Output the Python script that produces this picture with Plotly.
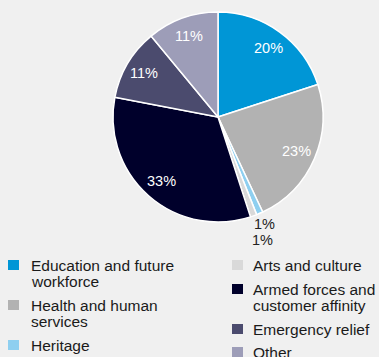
import math
import plotly.graph_objects as go

# Share of giving by cause (percent)
causes = [
    "Education and future workforce",
    "Health and human services",
    "Heritage",
    "Arts and culture",
    "Armed forces and customer affinity",
    "Emergency relief",
    "Other",
]
shares = [20, 23, 1, 1, 33, 11, 11]
colors = ["#0096d6", "#b2b2b2", "#8ecff0", "#d9d9d9", "#00002b", "#4b4b6e", "#9d9db8"]

# Legend layout: wrapped label lines, column and row centre (px)
legend_lines = [
    ["Education and future", "workforce"],
    ["Health and human", "services"],
    ["Heritage"],
    ["Arts and culture"],
    ["Armed forces and", "customer affinity"],
    ["Emergency relief"],
    ["Other"],
]
legend_col = [0, 0, 0, 1, 1, 1, 1]
legend_y = [265, 305, 345, 265, 289, 329, 352]

W, H = 379, 357
CX, CY, R = 218, 117, 105
BG = "#f0f0f0"
FONT = "Liberation Sans"

fig = go.Figure(
    go.Pie(
        labels=causes,
        values=shares,
        sort=False,
        direction="clockwise",
        rotation=0,
        marker=dict(colors=colors, line=dict(color="white", width=1.5)),
        textinfo="none",
        hoverinfo="label+percent",
        showlegend=False,
        domain=dict(x=[(CX - R) / W, (CX + R) / W], y=[1 - (CY + R) / H, 1 - (CY - R) / H]),
    )
)

annotations = []
shapes = []

# Percentage labels placed along each slice's mid-angle
total = sum(shares)
cum = 0
small_rank = 0
for v, c in zip(shares, colors):
    mid = (cum + v / 2) / total * 2 * math.pi
    cum += v
    if v / total >= 0.05:
        r, col = 0.815 * R, "white"
    else:
        r, col = 1.11 * R + small_rank * 14, "#222222"
        small_rank += 1
    px = CX + r * math.sin(mid)
    py = CY - r * math.cos(mid)
    annotations.append(dict(
        x=px / W, y=1 - py / H, xref="paper", yref="paper",
        text=f"{v}%", showarrow=False, xanchor="center", yanchor="middle",
        font=dict(family=FONT, size=14.5, color=col),
    ))

# Custom two-column legend
col_sq_x = [8, 232]
col_tx_x = [29, 251]
line_gap = 16
for lines, colidx, yc, c in zip(legend_lines, legend_col, legend_y, colors):
    sx = col_sq_x[colidx]
    shapes.append(dict(
        type="rect", xref="paper", yref="paper",
        x0=sx / W, x1=(sx + 11) / W, y0=1 - (yc + 5) / H, y1=1 - (yc - 5) / H,
        fillcolor=c, line=dict(width=0),
    ))
    for i, t in enumerate(lines):
        ly = yc + i * line_gap
        annotations.append(dict(
            x=col_tx_x[colidx] / W, y=1 - ly / H, xref="paper", yref="paper",
            text=t, showarrow=False, xanchor="left", yanchor="middle",
            font=dict(family=FONT, size=15.5, color="#1a1a1a"),
        ))

fig.update_layout(
    width=W, height=H,
    margin=dict(l=0, r=0, t=0, b=0),
    paper_bgcolor=BG, plot_bgcolor=BG,
    annotations=annotations, shapes=shapes,
)

fig.write_html("out.html")
